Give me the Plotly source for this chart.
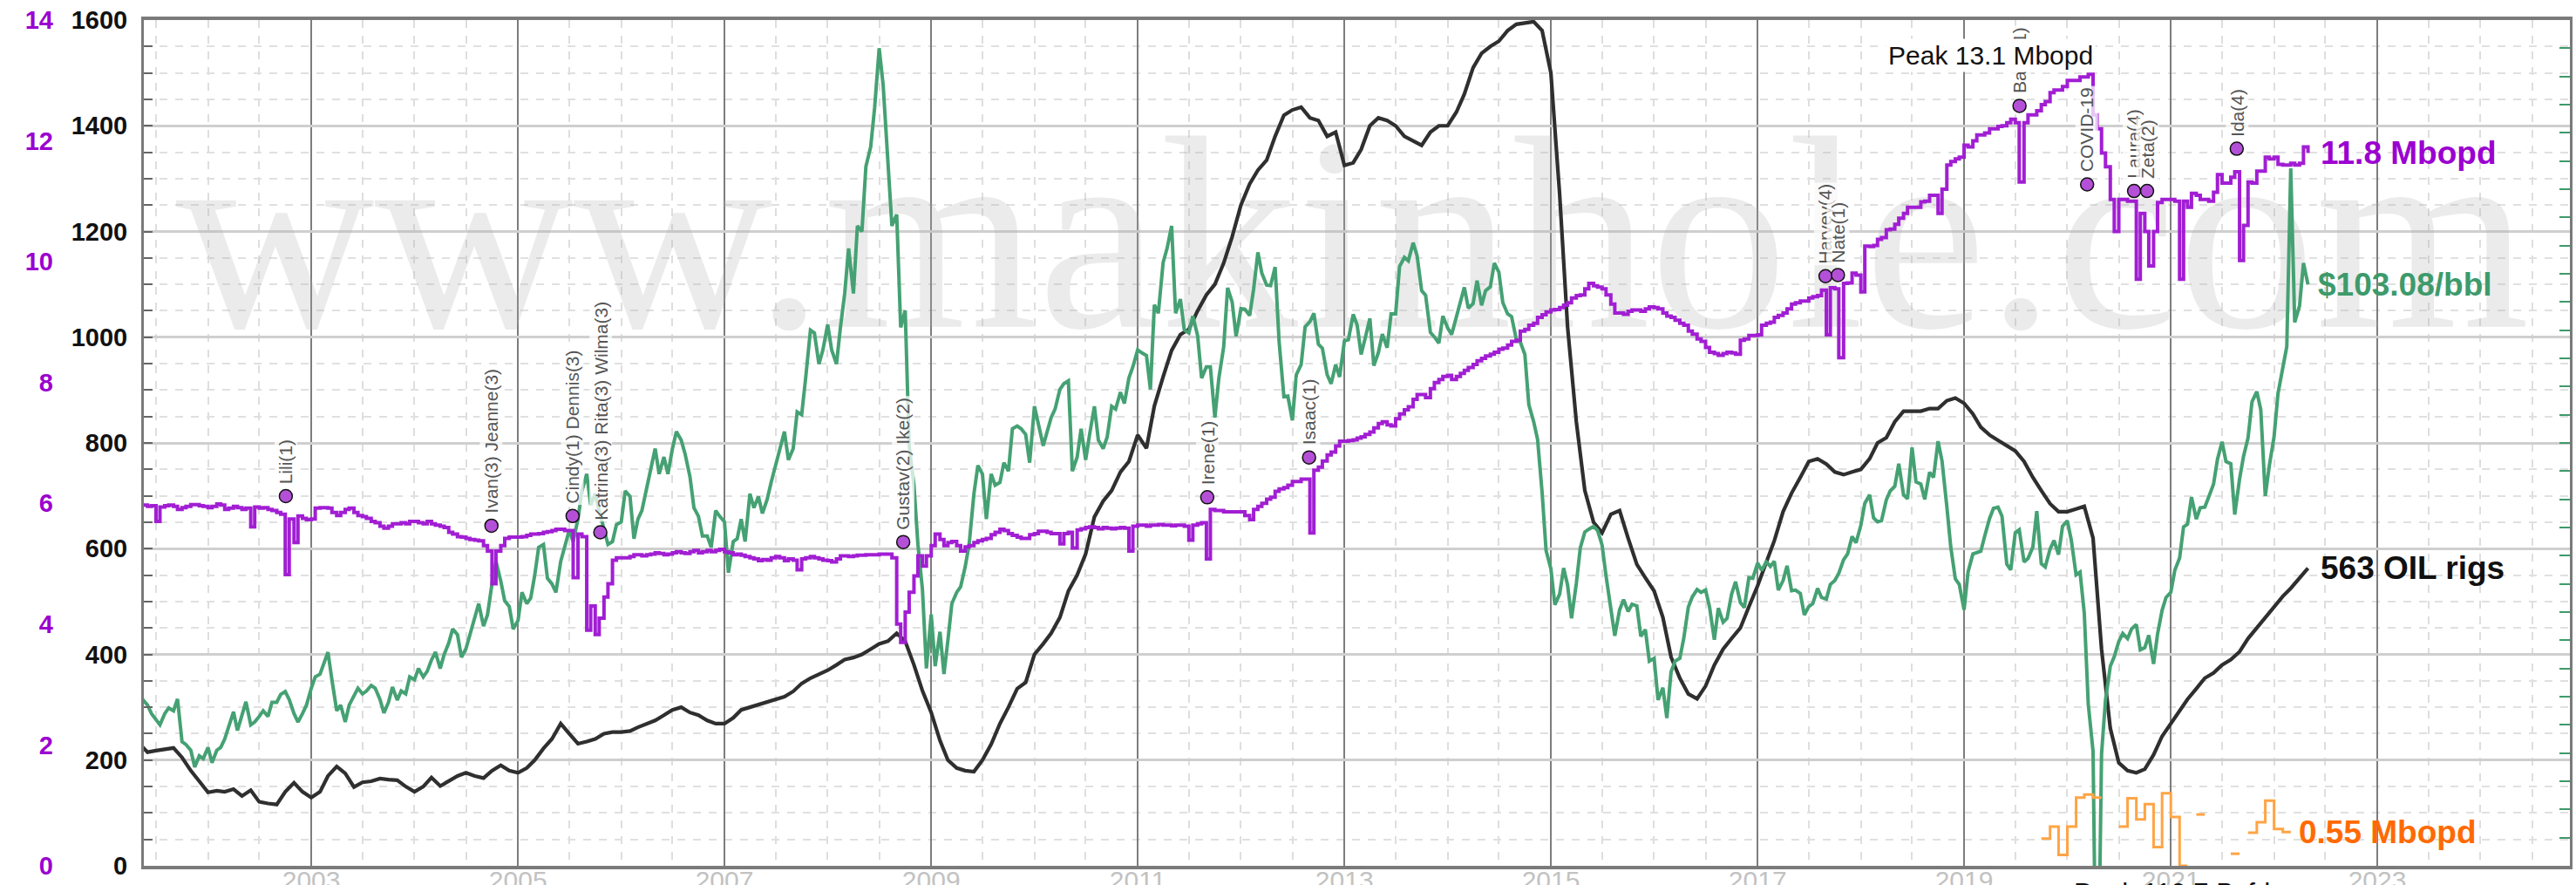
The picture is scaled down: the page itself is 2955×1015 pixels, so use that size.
import pandas as pd
import plotly.graph_objects as go

# ---------------- data ----------------
# WTI oil price, $/bbl, semi-monthly points (1st and 15th); first row starts 2001-05-15
price_rows = [
    [29.5, 28.5, 27.0, 26.0, 25.0, 27.0, 28.0, 27.5, 29.6, 22.0, 21.5, 20.5, 17.5, 19.5, 19.0],
    [21.0, 18.3, 20.5, 21.0, 22.5, 24.5, 27.3, 24.0, 27.0, 29.1, 25.0, 25.5, 26.5, 27.5, 26.5, 29.0, 29.0, 30.4, 30.9, 29.5, 27.0, 25.5, 27.0, 28.5],
    [31.5, 33.5, 34.0, 36.0, 37.9, 33.0, 27.5, 28.5, 25.5, 28.5, 30.0, 31.5, 30.5, 31.0, 32.0, 31.5, 29.5, 27.1, 29.0, 31.7, 29.4, 31.0, 30.5, 33.5],
    [33.0, 35.0, 33.5, 34.5, 36.5, 37.9, 35.0, 37.5, 39.5, 42.0, 41.0, 37.0, 38.5, 41.0, 43.5, 46.5, 42.5, 44.5, 50.0, 54.0, 50.5, 47.0, 46.0, 42.0],
    [43.5, 48.5, 46.5, 47.5, 51.5, 56.5, 57.0, 51.0, 50.0, 48.5, 54.0, 56.5, 59.5, 57.5, 61.5, 66.5, 69.5, 64.0, 66.0, 63.0, 60.0, 57.0, 57.5, 60.5],
    [61.0, 66.5, 65.5, 58.0, 61.5, 63.0, 67.0, 70.5, 74.0, 69.5, 72.5, 69.5, 74.0, 77.0, 75.5, 73.0, 69.0, 63.5, 62.0, 58.5, 58.5, 56.5, 63.0, 62.0],
    [61.0, 52.0, 57.5, 58.0, 61.5, 57.5, 66.0, 63.5, 65.5, 62.5, 65.0, 68.0, 71.0, 74.0, 77.0, 72.0, 74.0, 80.5, 80.0, 86.5, 95.0, 94.5, 89.0, 91.5],
    [96.0, 91.5, 89.0, 95.5, 101.5, 109.5, 101.5, 113.5, 112.5, 124.0, 127.5, 134.5, 145.0, 138.5, 124.5, 113.5, 115.5, 95.5, 98.5, 74.5, 67.5, 57.0, 49.0, 35.0],
    [44.6, 35.4, 41.5, 34.0, 40.0, 46.5, 48.5, 49.5, 53.0, 57.0, 66.0, 71.0, 69.5, 61.5, 69.5, 67.5, 68.0, 71.5, 70.0, 77.5, 78.0, 77.5, 76.5, 71.5],
    [81.5, 78.0, 74.5, 77.0, 79.5, 81.0, 84.5, 85.5, 86.0, 70.0, 72.5, 77.5, 72.0, 76.5, 81.5, 75.5, 74.0, 76.0, 81.5, 81.0, 84.0, 82.0, 86.5, 88.5],
    [91.5, 91.0, 90.5, 84.5, 99.5, 98.0, 107.0, 109.5, 113.5, 98.0, 100.5, 95.0, 94.5, 97.5, 94.0, 86.5, 88.5, 88.5, 79.5, 86.5, 92.0, 102.5, 100.0, 93.9],
    [98.8, 98.7, 97.6, 102.3, 108.8, 105.1, 103.0, 102.9, 106.2, 93.0, 83.2, 83.3, 79.0, 87.1, 88.9, 95.6, 96.5, 98.0, 92.5, 91.8, 87.1, 85.5, 88.9, 86.7],
    [93.1, 93.3, 97.8, 95.9, 90.7, 93.5, 97.1, 88.7, 91.0, 94.3, 91.9, 97.9, 97.9, 106.3, 107.9, 107.3, 110.5, 108.2, 102.0, 101.2, 94.6, 93.8, 92.7, 97.5],
    [95.4, 94.2, 97.5, 100.3, 102.6, 98.9, 99.7, 103.8, 99.4, 102.0, 102.7, 106.9, 105.3, 99.9, 97.9, 97.4, 93.3, 92.9, 90.7, 81.8, 78.8, 75.6, 66.2, 55.9],
    [52.7, 46.3, 48.2, 52.8, 49.8, 43.9, 50.1, 56.4, 59.2, 59.7, 60.2, 59.5, 56.9, 51.4, 45.2, 40.8, 45.4, 47.2, 45.1, 46.4, 46.1, 40.7, 41.9, 36.3],
    [36.8, 29.4, 31.6, 26.2, 34.4, 36.3, 36.8, 40.4, 45.9, 47.7, 49.0, 48.5, 48.9, 45.9, 40.1, 45.7, 43.2, 43.9, 48.2, 50.4, 46.7, 45.8, 51.1, 51.0],
    [53.7, 52.4, 53.9, 53.1, 54.0, 48.9, 50.6, 53.2, 48.8, 48.9, 48.3, 44.5, 46.0, 46.5, 49.2, 47.6, 47.3, 49.9, 50.6, 51.9, 54.3, 55.3, 58.4, 57.3],
    [60.4, 64.3, 65.8, 61.7, 61.0, 61.2, 64.9, 66.5, 67.3, 71.3, 65.8, 65.1, 74.2, 68.1, 67.7, 65.0, 69.8, 68.9, 75.3, 71.8, 63.7, 56.5, 50.9, 49.9],
    [45.4, 52.1, 55.3, 55.6, 55.8, 58.5, 61.6, 63.4, 63.6, 62.0, 53.5, 52.5, 59.1, 59.6, 53.9, 54.5, 56.5, 62.9, 53.6, 53.0, 56.2, 57.7, 55.2, 60.2],
    [61.2, 57.8, 51.6, 52.1, 44.8, 28.7, 20.3, -37.6, 19.8, 29.4, 35.4, 37.1, 39.8, 41.2, 40.3, 42.0, 42.8, 38.3, 38.7, 40.9, 35.8, 41.1, 45.3, 47.6],
    [48.5, 52.4, 54.6, 60.1, 60.6, 65.4, 61.5, 63.5, 63.6, 65.4, 67.7, 72.1, 75.2, 71.7, 71.3, 62.3, 68.6, 72.6, 75.9, 82.3, 84.1, 80.9, 65.6, 70.9],
    [76.1, 83.8, 88.2, 92.1, 123.7, 96.4, 99.3, 106.9, 103.08],
]

# US weekly crude oil production, Mbopd, same semi-monthly grid
prod_rows = [
    [5.97, 5.95, 5.96, 5.70, 5.94, 5.96, 5.97, 5.95, 5.90, 5.93, 5.95, 5.98, 5.98, 5.96, 5.95],
    [5.93, 5.95, 5.99, 5.97, 5.90, 5.92, 5.95, 5.93, 5.90, 5.92, 5.61, 5.94, 5.92, 5.93, 5.90, 5.88, 5.85, 5.82, 4.82, 5.74, 5.35, 5.79, 5.75, 5.73],
    [5.74, 5.92, 5.93, 5.93, 5.92, 5.85, 5.80, 5.85, 5.90, 5.92, 5.85, 5.80, 5.78, 5.75, 5.70, 5.68, 5.62, 5.59, 5.62, 5.66, 5.66, 5.68, 5.66, 5.70],
    [5.70, 5.68, 5.66, 5.70, 5.66, 5.64, 5.62, 5.60, 5.52, 5.49, 5.45, 5.44, 5.42, 5.40, 5.39, 5.38, 5.30, 5.21, 4.67, 5.21, 5.30, 5.42, 5.44, 5.44],
    [5.44, 5.45, 5.47, 5.49, 5.49, 5.50, 5.52, 5.53, 5.55, 5.57, 5.57, 5.55, 5.55, 4.77, 5.49, 5.45, 3.90, 4.30, 3.83, 4.10, 4.45, 4.67, 5.06, 5.10],
    [5.10, 5.10, 5.12, 5.15, 5.15, 5.13, 5.15, 5.16, 5.18, 5.17, 5.15, 5.16, 5.18, 5.20, 5.18, 5.17, 5.20, 5.22, 5.18, 5.20, 5.22, 5.20, 5.22, 5.24],
    [5.20, 5.18, 5.15, 5.16, 5.14, 5.12, 5.10, 5.08, 5.05, 5.07, 5.06, 5.10, 5.12, 5.10, 5.05, 5.08, 5.06, 4.90, 5.08, 5.10, 5.12, 5.10, 5.08, 5.06],
    [5.05, 5.03, 5.08, 5.13, 5.13, 5.12, 5.13, 5.14, 5.14, 5.15, 5.15, 5.15, 5.16, 5.16, 5.16, 5.10, 4.00, 3.70, 4.20, 4.53, 4.80, 5.13, 4.96, 5.13],
    [5.30, 5.49, 5.40, 5.30, 5.35, 5.37, 5.30, 5.21, 5.28, 5.30, 5.35, 5.38, 5.40, 5.42, 5.48, 5.52, 5.57, 5.55, 5.50, 5.47, 5.44, 5.42, 5.42, 5.48],
    [5.50, 5.54, 5.54, 5.52, 5.50, 5.50, 5.33, 5.50, 5.52, 5.26, 5.56, 5.58, 5.60, 5.61, 5.60, 5.58, 5.60, 5.59, 5.58, 5.59, 5.60, 5.59, 5.21, 5.62],
    [5.64, 5.64, 5.62, 5.64, 5.64, 5.65, 5.64, 5.64, 5.63, 5.64, 5.64, 5.62, 5.39, 5.64, 5.66, 5.68, 5.08, 5.90, 5.88, 5.88, 5.86, 5.86, 5.86, 5.86],
    [5.86, 5.80, 5.73, 5.90, 5.95, 6.00, 6.07, 6.10, 6.20, 6.24, 6.26, 6.30, 6.36, 6.36, 6.40, 6.40, 5.51, 6.55, 6.60, 6.70, 6.80, 6.85, 6.95, 7.03],
    [7.03, 7.04, 7.05, 7.08, 7.10, 7.14, 7.18, 7.25, 7.32, 7.35, 7.30, 7.28, 7.40, 7.48, 7.55, 7.60, 7.72, 7.80, 7.80, 7.75, 7.90, 8.00, 8.05, 8.10],
    [8.12, 8.05, 8.10, 8.15, 8.20, 8.25, 8.30, 8.36, 8.40, 8.44, 8.47, 8.50, 8.55, 8.57, 8.62, 8.68, 8.70, 8.85, 8.88, 8.95, 8.98, 9.08, 9.12, 9.17],
    [9.20, 9.21, 9.24, 9.28, 9.32, 9.40, 9.44, 9.45, 9.55, 9.64, 9.60, 9.58, 9.55, 9.45, 9.30, 9.15, 9.15, 9.13, 9.18, 9.20, 9.20, 9.18, 9.22, 9.25],
    [9.24, 9.22, 9.15, 9.10, 9.08, 9.03, 8.98, 8.95, 8.85, 8.80, 8.72, 8.68, 8.58, 8.50, 8.48, 8.45, 8.48, 8.50, 8.49, 8.47, 8.70, 8.72, 8.78, 8.78],
    [8.79, 8.95, 8.98, 9.00, 9.08, 9.11, 9.15, 9.22, 9.30, 9.32, 9.35, 9.35, 9.40, 9.42, 9.44, 9.53, 8.79, 9.57, 9.55, 8.41, 9.64, 9.65, 9.81, 9.78],
    [9.50, 10.26, 10.25, 10.27, 10.37, 10.40, 10.53, 10.54, 10.62, 10.72, 10.80, 10.90, 10.90, 10.90, 10.99, 11.00, 11.10, 11.10, 10.80, 11.20, 11.60, 11.66, 11.70, 11.73],
    [11.93, 11.90, 12.00, 12.10, 12.10, 12.13, 12.20, 12.20, 12.24, 12.25, 12.30, 12.36, 12.30, 11.32, 12.30, 12.43, 12.43, 12.50, 12.60, 12.65, 12.80, 12.84, 12.84, 12.90],
    [13.00, 13.00, 13.00, 13.06, 13.06, 13.10, 12.43, 12.20, 11.80, 11.57, 11.03, 10.50, 11.03, 11.03, 11.00, 11.00, 9.71, 10.80, 10.50, 9.93, 10.50, 10.98, 11.03, 11.03],
    [11.03, 11.00, 9.71, 11.00, 10.90, 11.13, 11.10, 11.03, 11.03, 11.00, 11.15, 11.44, 11.30, 11.30, 11.40, 11.49, 10.02, 10.60, 11.32, 11.30, 11.50, 11.50, 11.73, 11.70],
    [11.73, 11.61, 11.60, 11.60, 11.63, 11.60, 11.63, 11.90, 11.80],
]

# Oil rig count, monthly (1st of month); first row starts 2001-05
rigs_rows = [
    [232, 215, 218, 220, 223, 205, 180, 160],
    [139, 142, 140, 145, 132, 143, 121, 118, 116, 140, 157, 140],
    [129, 140, 170, 188, 175, 149, 158, 160, 165, 163, 162, 150],
    [140, 150, 167, 151, 160, 170, 176, 170, 166, 180, 190, 180],
    [176, 185, 200, 222, 240, 269, 250, 231, 235, 240, 250, 253],
    [253, 255, 262, 269, 275, 285, 295, 300, 290, 285, 275, 269],
    [269, 280, 295, 300, 305, 310, 315, 320, 330, 345, 355, 362],
    [370, 380, 390, 394, 400, 410, 420, 425, 440, 425, 380, 331],
    [290, 237, 200, 185, 180, 178, 200, 230, 269, 300, 335, 347],
    [400, 420, 440, 470, 520, 550, 590, 660, 690, 710, 745, 765],
    [815, 790, 870, 925, 975, 1005, 1015, 1050, 1080, 1100, 1140, 1190],
    [1250, 1290, 1316, 1335, 1380, 1420, 1430, 1435, 1415, 1410, 1380, 1388],
    [1325, 1330, 1355, 1400, 1415, 1410, 1400, 1380, 1371, 1363, 1388, 1400],
    [1400, 1426, 1460, 1510, 1537, 1550, 1560, 1580, 1592, 1594, 1597, 1580],
    [1500, 1270, 1020, 840, 710, 650, 630, 665, 672, 620, 570, 545],
    [520, 470, 395, 355, 325, 316, 340, 380, 410, 430, 450, 490],
    [530, 575, 615, 670, 705, 735, 765, 770, 760, 745, 740, 745],
    [750, 770, 800, 810, 840, 860, 860, 860, 865, 865, 880, 885],
    [875, 855, 830, 815, 805, 795, 785, 765, 735, 710, 685, 670],
    [670, 675, 680, 620, 410, 260, 195, 180, 176, 183, 210, 245],
    [269, 291, 315, 335, 355, 365, 380, 390, 405, 430, 450, 470],
    [490, 510, 525, 545, 563],
]

# Orange series, Mbopd, monthly from 2019-10 (None = no data)
orange_start = "2019-10-01"
orange_vals = [0.45, 0.65, 0.18, 0.65, 1.13, 1.18, 1.13, None, None, 0.65, 1.12, 0.77,
               1.02, 0.31, 1.20, 0.81, 0.0, None, 0.85, None, None, None, 0.20, None,
               0.55, 0.72, 1.08, 0.61, 0.56]

# Hurricane / event markers
hurr_labels = ["Lili(1)", "Ivan(3) Jeanne(3)", "Cindy(1) Dennis(3)", "Katrina(3) Rita(3) Wilma(3)",
               "Gustav(2) Ike(2)", "Irene(1)", "Isaac(1)", "Harvey(4)", "Nate(1)", "Barry(1)",
               "COVID-19", "Laura(4)", "Zeta(2)", "Ida(4)"]
hurr_dates = ["2002-10-03", "2004-09-29", "2005-07-13", "2005-10-19", "2008-09-24", "2011-09-04",
              "2012-08-29", "2017-08-29", "2017-10-12", "2019-07-16", "2020-03-11", "2020-08-24",
              "2020-10-09", "2021-08-22"]
hurr_y = [6.12, 5.63, 5.79, 5.52, 5.36, 6.10, 6.76, 9.76, 9.78, 12.58, 11.28, 11.17, 11.17, 11.87]

end_labels = ["11.8 Mbopd", "$103.08/bbl", "563 OIL rigs", "0.55 Mbopd"]
peak_label = "Peak 13.1 Mbopd"
bottom_label = "Peak 119.7 Bcfd"
title_text = "Weekly US Crude Oil Production (Mbopd) vs Baker Hughes Oil Rig Count vs WTI Oil Price ($/bbl)"
watermark = "www.makinhole.com"


# ---------------- build date grids ----------------
def grid(rows, first_start, freq):
    xs, ys = [], []
    year0 = int(first_start[:4])
    for k, row in enumerate(rows):
        start = first_start if k == 0 else f"{year0 + k}-01-01"
        xs += list(pd.date_range(start, periods=len(row), freq=freq))
        ys += row
    return xs, ys


price_x, price_y = grid(price_rows, "2001-05-15", "SMS")
prod_x, prod_y = grid(prod_rows, "2001-05-15", "SMS")
rigs_x, rigs_y = grid(rigs_rows, "2001-05-01", "MS")

o_dates = list(pd.date_range(orange_start, periods=len(orange_vals) + 1, freq="MS"))
ox, oy = [], []
for i, v in enumerate(orange_vals):
    if v is None:
        continue
    ox.append(o_dates[i]); oy.append(v)
    nxt = orange_vals[i + 1] if i + 1 < len(orange_vals) else None
    if nxt is None:
        ox.append(o_dates[i + 1]); oy.append(v)
        ox.append(None); oy.append(None)

PURPLE = "#a11ed3"
GREEN = "#45a173"
BLACK = "#2f2f2f"
ORANGE = "#ffa445"
FONT = "Liberation Sans"

fig = go.Figure()
fig.add_trace(go.Scatter(x=["2013-01-30"], y=[1150], mode="text", text=[watermark],
                         textfont=dict(family="Liberation Serif", size=316, color="rgba(175,175,175,0.25)"),
                         textposition="middle center", hoverinfo="skip", yaxis="y"))
fig.add_trace(go.Scatter(x=rigs_x, y=rigs_y, mode="lines", line=dict(color=BLACK, width=4.2), yaxis="y"))
fig.add_trace(go.Scatter(x=price_x, y=price_y, mode="lines", line=dict(color=GREEN, width=4), yaxis="y2"))
fig.add_trace(go.Scatter(x=prod_x, y=prod_y, mode="lines", line=dict(color=PURPLE, width=4, shape="hv"), yaxis="y3"))
fig.add_trace(go.Scatter(x=ox, y=oy, mode="lines", line=dict(color=ORANGE, width=3, shape="hv"),
                         connectgaps=False, yaxis="y3"))
fig.add_trace(go.Scatter(x=hurr_dates, y=hurr_y, mode="markers",
                         marker=dict(size=15, color="#b450d8", line=dict(color="#111", width=1.5)), yaxis="y3"))

ann = []
for lab, d, yv in zip(hurr_labels, hurr_dates, hurr_y):
    ann.append(dict(x=d, y=yv, xref="x", yref="y3", text=lab, textangle=-90, showarrow=False,
                    xanchor="center", yanchor="bottom", yshift=12,
                    font=dict(family=FONT, size=21, color="#555"),
                    bgcolor="rgba(255,255,255,0.75)", borderpad=1))

end_x = "2022-05-01"
ann.append(dict(x=end_x, y=11.8, xref="x", yref="y3", text=end_labels[0], showarrow=False,
                xanchor="left", yanchor="middle", xshift=12,
                font=dict(family=FONT, size=37, color="#9b00d0", weight="bold")))
ann.append(dict(x=end_x, y=103.08, xref="x", yref="y2", text=end_labels[1], showarrow=False,
                xanchor="left", yanchor="middle", xshift=9,
                font=dict(family=FONT, size=37, color="#3d9a6b", weight="bold")))
ann.append(dict(x=end_x, y=563, xref="x", yref="y", text=end_labels[2], showarrow=False,
                xanchor="left", yanchor="middle", xshift=12,
                font=dict(family=FONT, size=37, color="#111", weight="bold")))
ann.append(dict(x="2022-03-01", y=0.55, xref="x", yref="y3", text=end_labels[3], showarrow=False,
                xanchor="left", yanchor="middle", xshift=7,
                font=dict(family=FONT, size=37, color="#ff6a00", weight="bold")))
ann.append(dict(x="2019-04-05", y=13.41, xref="x", yref="y3", text=peak_label, showarrow=False,
                xanchor="center", yanchor="middle",
                font=dict(family=FONT, size=30, color="#111"), bgcolor="white", borderpad=2))
ann.append(dict(x=0.795, y=-0.0125, xref="paper", yref="paper", text=bottom_label, showarrow=False,
                xanchor="left", yanchor="top",
                font=dict(family=FONT, size=31, color="#111")))
ann.append(dict(x=0.0, y=1.0262, xref="paper", yref="paper", text=title_text, showarrow=False,
                xanchor="left", yanchor="bottom",
                font=dict(family=FONT, size=36, color="#b00000", weight="bold")))

fig.update_layout(
    width=2955, height=1015,
    margin=dict(l=165, r=7, t=23, b=22, pad=0),
    paper_bgcolor="white", plot_bgcolor="white", showlegend=False,
    annotations=ann,
    xaxis=dict(type="date", range=["2001-05-19", "2024-11-12"], dtick="M24", tick0="2003-01-01",
               tickformat="%Y", showgrid=True, gridcolor="#7d7d7d", gridwidth=2,
               minor=dict(dtick="M6", tick0="2003-01-01", showgrid=True, gridcolor="#dedede",
                          gridwidth=1.5, griddash="dash"),
               showline=True, linecolor="#7a7a7a", linewidth=4, mirror=True,
               ticks="", tickfont=dict(family=FONT, size=30, color="#c2c2c2"),
               ticklabeloverflow="allow", ticklabelstandoff=-13, zeroline=False, automargin=False),
    yaxis=dict(range=[0, 1600], dtick=200, tick0=0, showgrid=True, gridcolor="#cfcfcf", gridwidth=3,
               minor=dict(dtick=50, showgrid=True, gridcolor="#e0e0e0", gridwidth=1.5, griddash="dash",
                          ticks="inside", ticklen=10, tickcolor="#666", tickwidth=2),
               ticks="inside", ticklen=10, tickcolor="#666", tickwidth=2,
               showline=True, linecolor="#7a7a7a", linewidth=3, mirror=True,
               tickfont=dict(family=FONT, size=29, color="#111", weight="bold"),
               ticklabelstandoff=10, zeroline=False, automargin=False),
    yaxis2=dict(overlaying="y", side="right", range=[0, 150], dtick=5, tick0=0,
                ticks="inside", ticklen=12, tickwidth=2, tickcolor="#3f9a6b",
                showticklabels=False, showgrid=False, zeroline=False, showline=False, automargin=False),
    yaxis3=dict(overlaying="y", side="left", anchor="free", position=0, range=[0, 14], dtick=2, tick0=0,
                ticks="", showgrid=False, zeroline=False, showline=False,
                tickfont=dict(family=FONT, size=29, color="#9b00d0", weight="bold"),
                ticklabelstandoff=104, automargin=False),
)

fig.write_html("out.html", config={"displayModeBar": False},
               post_script="document.body.style.margin='0';document.body.style.overflow='hidden';")
